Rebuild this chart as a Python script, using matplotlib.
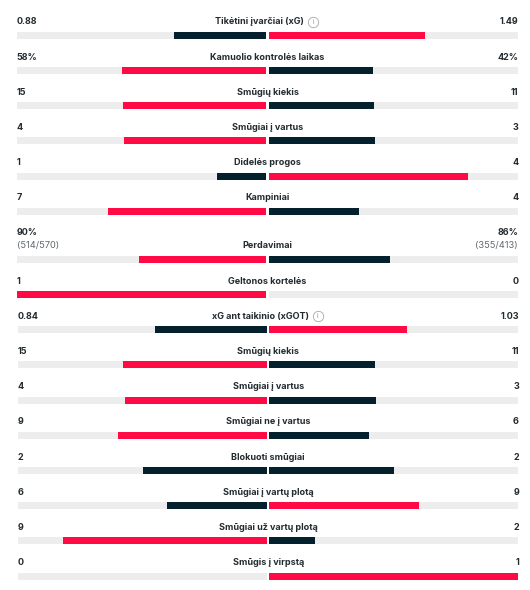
import matplotlib
matplotlib.use("Agg")
import matplotlib.pyplot as plt

labels = ["Tikėtini įvarčiai (xG)", "Kamuolio kontrolės laikas", "Smūgių kiekis", "Smūgiai į vartus",
          "Didelės progos", "Kampiniai", "Perdavimai", "Geltonos kortelės", "xG ant taikinio (xGOT)",
          "Smūgių kiekis", "Smūgiai į vartus", "Smūgiai ne į vartus", "Blokuoti smūgiai",
          "Smūgiai į vartų plotą", "Smūgiai už vartų plotą", "Smūgis į virpstą"]
home_values = [0.88, 58, 15, 4, 1, 7, 90, 1, 0.84, 15, 4, 9, 2, 6, 9, 0]
away_values = [1.49, 42, 11, 3, 4, 4, 86, 0, 1.03, 11, 3, 6, 2, 9, 2, 1]
home_text = ["0.88", "58%", "15", "4", "1", "7", "90%", "1", "0.84", "15", "4", "9", "2", "6", "9", "0"]
away_text = ["1.49", "42%", "11", "3", "4", "4", "86%", "0", "1.03", "11", "3", "6", "2", "9", "2", "1"]
home_detail = {6: "(514/570)"}
away_detail = {6: "(355/413)"}
info_rows = [0, 8]

RED = "#ff0a45"
DARK = "#04202c"
TRACK = "#ededed"
TEXT = "#222b30"
GREY = "#5f6b70"

plt.rcParams["font.family"] = ["Inter", "DejaVu Sans"]

fig = plt.figure(figsize=(5.3, 5.9), dpi=100)
ax = fig.add_axes([0, 0, 1, 1])

# x axis: share of the half track, y axis: pixels from the top
half = 249.0
px = 1 / half
center = 267.5
gap = 1.2 * px
side = 1 + gap + 0.5 * px
ax.set_xlim(-center / half, (530 - center) / half)
ax.set_ylim(590, 0)
ax.axis("off")

for i, label in enumerate(labels):
    y = 35.3 + i * 35.2
    x0 = 0
    if i >= 6:
        y += 12.8  # the passes row is taller
    if i >= 8:
        x0 = 0.7 * px  # lower block sits a bit to the right

    home = home_values[i]
    away = away_values[i]
    total = home + away
    home_col = RED if home > away else DARK
    away_col = RED if away > home else DARK

    ax.barh(y, -1, height=7, left=x0 - gap, color=TRACK)
    ax.barh(y, 1, height=7, left=x0 + gap, color=TRACK)
    ax.barh(y, -home / total, height=7, left=x0 - gap, color=home_col)
    ax.barh(y, away / total, height=7, left=x0 + gap, color=away_col)

    ty = y - 13.5
    shift = -8 * px if i in info_rows else 0
    t = ax.text(x0 + shift, ty, label, ha="center", va="center", fontsize=6.5,
                fontweight="bold", color=TEXT)
    ax.text(x0 - side, ty - (13 if i in home_detail else 0), home_text[i], ha="left", va="center",
            fontsize=6.5, fontweight="bold", color=TEXT)
    ax.text(x0 + side, ty - (13 if i in away_detail else 0), away_text[i], ha="right", va="center",
            fontsize=6.5, fontweight="bold", color=TEXT)

    if i in home_detail:
        ax.text(x0 - side, ty, home_detail[i], ha="left", va="center", fontsize=6.7, color=GREY)
        ax.text(x0 + side, ty, away_detail[i], ha="right", va="center", fontsize=6.7, color=GREY)

    if i in info_rows:
        box = t.get_window_extent(fig.canvas.get_renderer())
        xi = ax.transData.inverted().transform((box.x1, 0))[0] + 9 * px
        ax.plot([xi], [ty], marker="o", ms=7.5, mfc="none", mec="#a8a8a8", mew=0.6)
        ax.text(xi, ty, "i", ha="center", va="center", fontsize=4.5, color="#8a8a8a")

fig.savefig("out.png", dpi=100)
